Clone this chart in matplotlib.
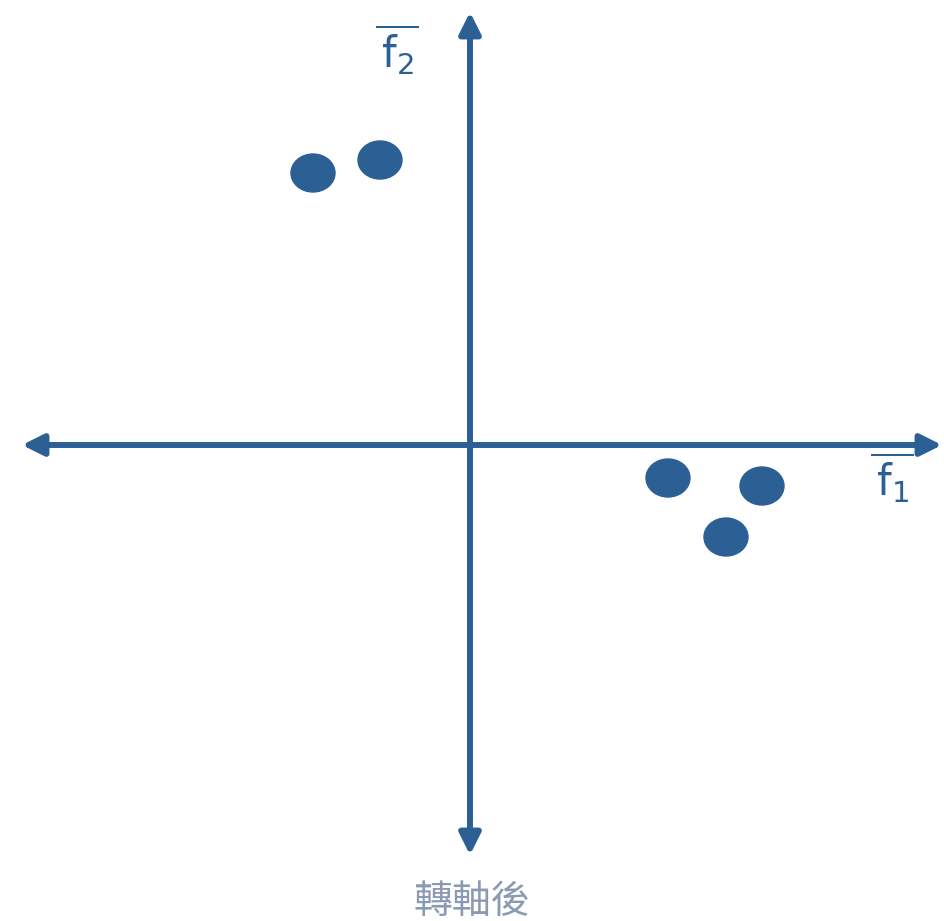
import matplotlib.pyplot as plt
from matplotlib.patches import Ellipse

plt.rcParams['font.family'] = ['Noto Sans CJK TC', 'DejaVu Sans']
plt.rcParams['mathtext.fontset'] = 'dejavusans'

# rotated factor scores (f1, f2)
f1 = [-1.57, -0.90, 1.98, 2.92, 2.56]
f2 = [2.72, 2.85, -0.33, -0.41, -0.92]
caption = '轉軸後'

blue = '#2c6095'

fig = plt.figure(figsize=(9.45, 9.21), dpi=100)
ax = fig.add_axes([0, 0, 1, 1])
ax.set_xlim(-4.70, 4.75)
ax.set_ylim(-4.76, 4.45)
ax.axis('off')

arrow = dict(arrowstyle='<|-|>', color=blue, lw=4.3, mutation_scale=32,
             shrinkA=0, shrinkB=0)
ax.annotate('', xy=(4.72, 0), xytext=(-4.48, 0), arrowprops=arrow)
ax.annotate('', xy=(0, 4.33), xytext=(0, -4.10), arrowprops=arrow)

for x, y in zip(f1, f2):
    ax.add_patch(Ellipse((x, y), 0.44, 0.38, color=blue, zorder=3))

ax.text(-0.73, 3.95, r'$\overline{\,\mathsf{f}_{2}}$', color=blue, fontsize=30,
        ha='center', va='center')
ax.text(4.22, -0.33, r'$\overline{\,\mathsf{f}_{1}}$', color=blue, fontsize=30,
        ha='center', va='center')
ax.text(0.02, -4.57, caption, color='#8a9ab3', fontsize=28,
        ha='center', va='center')

fig.savefig('out.png', dpi=100)
